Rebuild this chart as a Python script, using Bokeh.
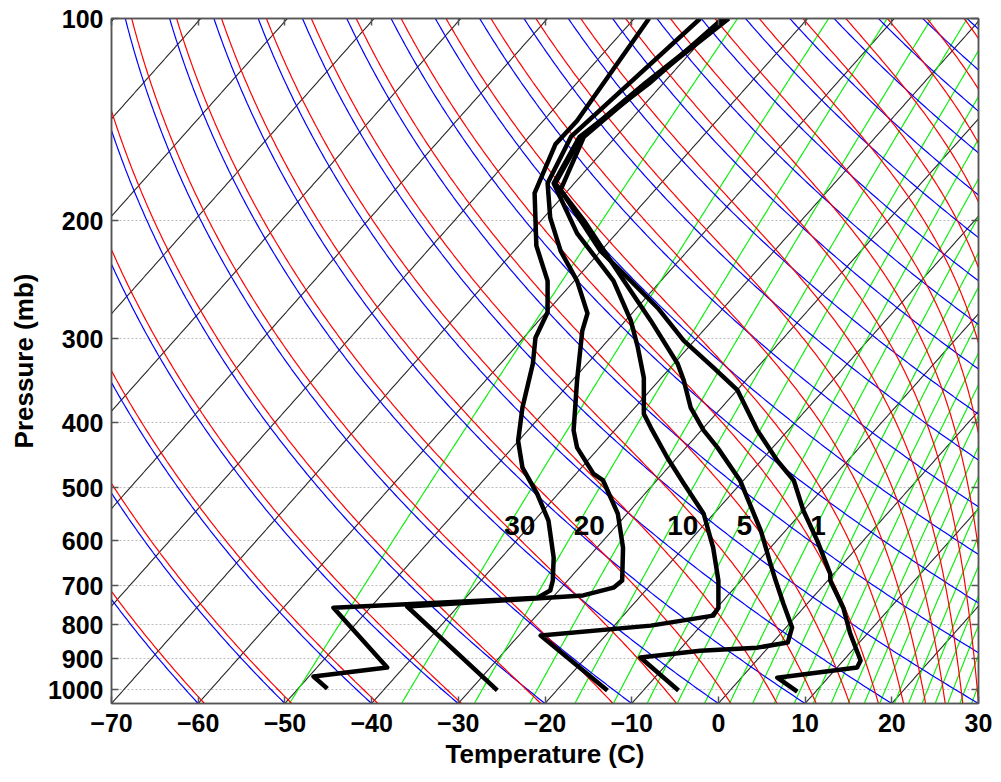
import numpy as np
from bokeh.plotting import figure
from bokeh.models import Range1d, FixedTicker, LinearAxis, LogAxis
from bokeh.core.properties import value
from bokeh.embed import file_html
from bokeh.resources import INLINE

# ---------------- diagram geometry ----------------
P_BOT = 1049.0
P_TOP = 100.0
SKEW = 68.86          # deg C of skew per decade of pressure

x_ticks = [-70, -60, -50, -40, -30, -20, -10, 0, 10, 20, 30]
y_ticks = [100, 200, 300, 400, 500, 600, 700, 800, 900, 1000]

# background line families
isotherm_T = list(range(-160, 41, 10))            # deg C
dry_T0 = list(range(-70, 201, 10))                # deg C at the bottom pressure
moist_thetae = list(range(211, 482, 10))          # K
mixing_w = [0.04, 0.16, 0.36, 0.64, 1.0, 1.44, 1.96, 2.56, 3.24, 4.0, 4.84,
            5.76, 6.76, 7.84, 9.0, 10.24, 11.56, 12.96, 14.44, 16.0, 17.64,
            19.36, 21.16, 23.04, 25.0, 27.04, 29.16]  # g/kg

# ---------------- profiles (skewed temperature read on x axis, pressure mb) ----------------
prof30_x = [-45.1, -46.7, -38.2, -44.4, -20.9, -19.4, -19.1, -19.0, -19.6, -20.9, -22.6,
            -23.1, -22.6, -21.4, -21.1, -19.7, -19.7, -21.0, -21.2, -18.8, -16.3, -8.0]
prof30_p = [997, 956, 927, 755, 730, 712, 688, 636, 560, 511, 467,
            426, 380, 327, 299, 274, 246, 218, 182, 154, 142, 100]

prof20_x = [-25.5, -35.9, -15.6, -12.1, -11.1, -11.0, -11.6, -13.3, -14.4, -16.3, -16.7,
            -16.3, -15.7, -15.1, -16.3, -18.2, -19.4, -19.7, -17.0, -2.1]
prof20_p = [1003, 752, 724, 705, 688, 615, 547, 488, 477, 436, 411,
            346, 292, 275, 246, 222, 198, 176, 150, 100]

prof10_x = [-12.8, -20.5, -7.8, -0.6, 0.0, 0.0, -0.6, -1.7, -4.0, -5.9, -7.8,
            -8.6, -8.6, -9.3, -10.1, -12.1, -16.3, -19.0, -16.0, -8.0, 0.5]
prof10_p = [1003, 831, 803, 776, 755, 688, 615, 547, 493, 451, 407,
            388, 343, 309, 282, 246, 209, 176, 150, 125, 100]

prof5_x = [-4.6, -9.0, -2.1, 4.5, 8.0, 8.5, 7.5, 6.6, 6.0, 4.9, 2.5, -0.1,
           -1.7, -3.2, -4.0, -4.7, -7.8, -10.9, -15.5, -18.8, -15.8, -8.5, 1.0]
prof5_p = [1003, 896, 875, 866, 851, 808, 745, 688, 649, 580, 488, 436,
           411, 380, 346, 327, 282, 246, 200, 176, 150, 125, 100]

prof1_x = [9.1, 6.8, 16.0, 16.4, 15.2, 14.4, 12.9, 12.9, 11.4, 9.8, 8.7, 6.8,
           4.5, 2.2, -0.6, -4.0, -7.0, -10.1, -13.6, -15.9, -18.2, -15.5, -8.3, 1.2]
prof1_p = [1007, 960, 927, 905, 825, 755, 688, 672, 600, 541, 488, 456,
           411, 358, 331, 302, 270, 246, 222, 200, 180, 150, 125, 100]

label_text = ["30", "20", "10", "5", "1"]
label_x = [-22.9, -14.9, -4.1, 3.0, 11.5]
label_p = [570, 570, 570, 570, 570]

# ---------------- thermodynamics helpers ----------------
def skew_x(T, p):
    return T + SKEW * np.log10(P_BOT / p)

def es_hpa(Tk):
    Tc = Tk - 273.15
    return 6.112 * np.exp(17.67 * Tc / (Tc + 243.5))

def theta_e(Tk, p):
    es = np.minimum(es_hpa(Tk), 0.5 * p)
    ws = 0.622 * es / (p - es)
    return Tk * (1000.0 / p) ** 0.2857 * np.exp(2.5e6 * ws / (1004.0 * Tk))

def moist_T(the, p):
    lo = np.full_like(p, 100.0)
    hi = np.full_like(p, 380.0)
    for _ in range(60):
        mid = 0.5 * (lo + hi)
        above = theta_e(mid, p) > the
        hi = np.where(above, mid, hi)
        lo = np.where(above, lo, mid)
    return 0.5 * (lo + hi) - 273.15

pg = np.logspace(np.log10(95.0), np.log10(1100.0), 400)

iso_xs = [list(skew_x(np.full_like(pg, T), pg)) for T in isotherm_T]
dry_xs = [list(skew_x((t0 + 273.15) * (pg / P_BOT) ** 0.2857 - 273.15, pg)) for t0 in dry_T0]
moist_xs = [list(skew_x(moist_T(te, pg), pg)) for te in moist_thetae]
mix_xs = []
for w in mixing_w:
    e = w * pg / (622.0 + w)
    ln = np.log(e / 6.112)
    td = 243.5 * ln / (17.67 - ln)
    mix_xs.append(list(skew_x(td, pg)))
ys = list(pg)

# ---------------- figure ----------------
p = figure(width=993, height=778, x_range=Range1d(-70, 30), y_range=Range1d(P_BOT, P_TOP),
           y_axis_type="log", output_backend="svg", toolbar_location=None,
           min_border_left=111, min_border_right=15, min_border_top=18, min_border_bottom=75)
p.outline_line_color = "#555555"
p.outline_line_width = 1.5

p.multi_line(xs=iso_xs, ys=[ys] * len(iso_xs), line_color="#000000", line_width=1.1, line_alpha=0.85)
p.multi_line(xs=mix_xs, ys=[ys] * len(mix_xs), line_color="#11ee11", line_width=1.2)
p.multi_line(xs=dry_xs, ys=[ys] * len(dry_xs), line_color="#0000ff", line_width=1.2)
p.multi_line(xs=moist_xs, ys=[ys] * len(moist_xs), line_color="#ff0000", line_width=1.2)

for xs_, ps_ in [(prof30_x, prof30_p), (prof20_x, prof20_p), (prof10_x, prof10_p),
                 (prof5_x, prof5_p), (prof1_x, prof1_p)]:
    p.line(xs_, ps_, line_color="black", line_width=4.5, line_join="round")

p.text(x=label_x, y=label_p, text=label_text, text_font=value("Liberation Sans"),
       text_font_style="bold", text_font_size="28px", text_align="center",
       text_baseline="middle", text_color="black")

FONT = "Liberation Sans"
AX_COLOR = "#555555"

p.xaxis.ticker = FixedTicker(ticks=x_ticks)
p.yaxis.ticker = FixedTicker(ticks=y_ticks)
p.yaxis.major_label_overrides = {t: str(t) for t in y_ticks}
p.xaxis.axis_label = "Temperature (C)"
p.yaxis.axis_label = "Pressure (mb)"
for ax in (p.xaxis[0], p.yaxis[0]):
    ax.major_label_text_font = FONT
    ax.major_label_text_font_style = "bold"
    ax.major_label_text_font_size = "25px"
    ax.major_label_text_color = "black"
    ax.axis_label_text_font = FONT
    ax.axis_label_text_font_style = "bold"
    ax.axis_label_text_font_size = "26px"
    ax.axis_label_text_color = "black"
    ax.major_tick_in = 7
    ax.major_tick_out = 0
    ax.minor_tick_line_color = None
    ax.axis_line_color = AX_COLOR
    ax.axis_line_width = 1.5
    ax.major_tick_line_color = AX_COLOR
    ax.major_tick_line_width = 1.5
p.xaxis.major_label_standoff = 10
p.xaxis.axis_label_standoff = 4
p.yaxis.major_label_standoff = 8
p.yaxis.axis_label_standoff = 6

top_ax = LinearAxis(ticker=FixedTicker(ticks=x_ticks), major_label_text_font_size="0px",
                    major_label_overrides={t: "" for t in x_ticks},
                    major_tick_in=7, major_tick_out=0, minor_tick_line_color=None,
                    axis_line_color=AX_COLOR, axis_line_width=1.5,
                    major_tick_line_color=AX_COLOR, major_tick_line_width=1.5,
                    major_label_standoff=0)
p.add_layout(top_ax, "above")
right_ax = LogAxis(ticker=FixedTicker(ticks=y_ticks), major_label_text_font_size="0px",
                   major_label_overrides={t: "" for t in y_ticks},
                   major_tick_in=7, major_tick_out=0, minor_tick_line_color=None,
                   axis_line_color=AX_COLOR, axis_line_width=1.5,
                   major_tick_line_color=AX_COLOR, major_tick_line_width=1.5,
                   major_label_standoff=0)
p.add_layout(right_ax, "right")

p.xgrid.grid_line_color = None
p.ygrid.ticker = FixedTicker(ticks=y_ticks)
p.ygrid.grid_line_color = "#bbbbbb"
p.ygrid.grid_line_dash = "2 2"
p.ygrid.grid_line_width = 1

open("out.html", "w").write(file_html(p, INLINE))
